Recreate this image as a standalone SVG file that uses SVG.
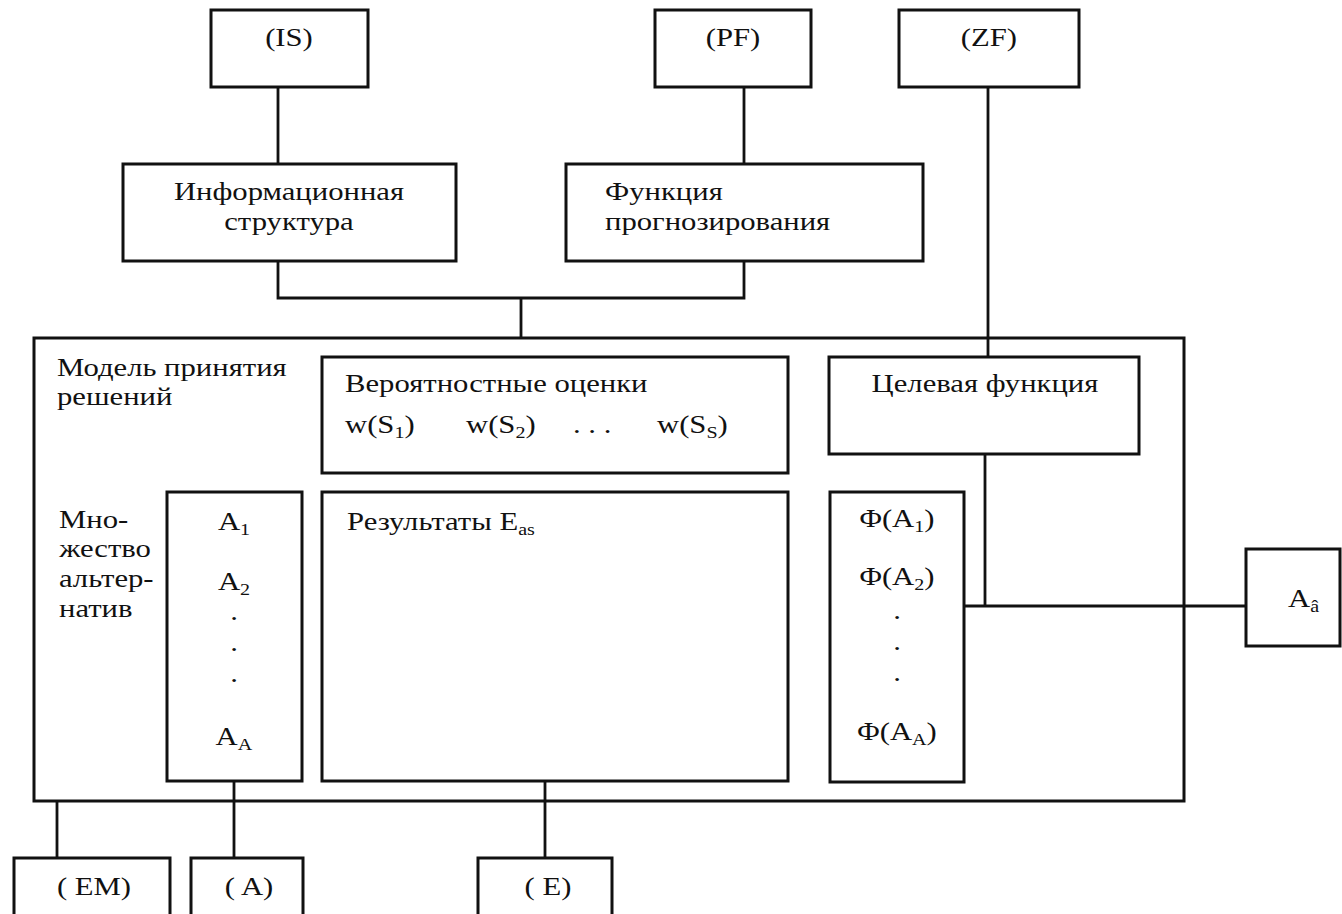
<svg xmlns="http://www.w3.org/2000/svg" width="1342" height="914" viewBox="0 0 1342 914">
<style>
.b{fill:#fff;stroke:#111;stroke-width:3}
.c{fill:none;stroke:#111;stroke-width:2.8}
text{font-family:"Liberation Serif","Times New Roman",serif;font-size:26px;fill:#111;transform-box:fill-box;transform-origin:left center;transform:scaleX(1.18)}
text.m{text-anchor:middle;transform-origin:center}
.s{font-size:17px}
</style>
<rect width="1342" height="914" fill="#fff"/>
<g id="main"><rect class="b" x="34" y="338" width="1150" height="463"/>
<text x="57" y="376">Модель принятия</text><text x="57" y="405">решений</text>
<text x="59" y="528">Мно-</text><text x="59" y="557">жество</text><text x="59" y="587">альтер-</text><text x="59" y="617">натив</text></g>
<g id="connectors">
<path class="c" d="M278,87V164M744,87V164M278,261V298H744V261M521,298V338M988,87V357M985,454V606M964,606H1246M57,801V858M234,781V858M545,781V858"/>
</g>
<g id="IS"><rect class="b" x="211" y="10" width="157" height="77"/><text class="m" x="289" y="46">(IS)</text></g>
<g id="PF"><rect class="b" x="655" y="10" width="156" height="77"/><text class="m" x="733" y="46">(PF)</text></g>
<g id="ZF"><rect class="b" x="899" y="10" width="180" height="77"/><text class="m" x="989" y="46">(ZF)</text></g>
<g id="info"><rect class="b" x="123" y="164" width="333" height="97"/><text class="m" x="289" y="200">Информационная</text><text class="m" x="289" y="230">структура</text></g>
<g id="forecast"><rect class="b" x="566" y="164" width="357" height="97"/><text x="605" y="200">Функция</text><text x="605" y="230">прогнозирования</text></g>
<g id="prob"><rect class="b" x="322" y="357" width="466" height="116"/><text x="345" y="392">Вероятностные оценки</text>
<text x="345" y="433">w(S<tspan class="s" dy="5">1</tspan><tspan dy="-5">)</tspan></text>
<text x="466" y="433">w(S<tspan class="s" dy="5">2</tspan><tspan dy="-5">)</tspan></text>
<text x="573" y="433">. . .</text>
<text x="657" y="433">w(S<tspan class="s" dy="5">S</tspan><tspan dy="-5">)</tspan></text></g>
<g id="goal"><rect class="b" x="829" y="357" width="310" height="97"/><text class="m" x="985" y="392">Целевая функция</text></g>
<g id="alts"><rect class="b" x="167" y="492" width="135" height="289"/>
<text class="m" x="234" y="530">A<tspan class="s" dy="5">1</tspan></text>
<text class="m" x="234" y="590">A<tspan class="s" dy="5">2</tspan></text>
<text class="m" x="234" y="620">.</text><text class="m" x="234" y="651">.</text><text class="m" x="234" y="682">.</text>
<text class="m" x="234" y="745">A<tspan class="s" dy="5">A</tspan></text></g>
<g id="results"><rect class="b" x="322" y="492" width="466" height="289"/><text x="347" y="530">Результаты E<tspan class="s" dy="5">as</tspan></text></g>
<g id="phi"><rect class="b" x="830" y="492" width="134" height="290"/>
<text class="m" x="897" y="527">Φ(A<tspan class="s" dy="5">1</tspan><tspan dy="-5">)</tspan></text>
<text class="m" x="897" y="585">Φ(A<tspan class="s" dy="5">2</tspan><tspan dy="-5">)</tspan></text>
<text class="m" x="897" y="619">.</text><text class="m" x="897" y="650">.</text><text class="m" x="897" y="681">.</text>
<text class="m" x="897" y="740">Φ(A<tspan class="s" dy="5">A</tspan><tspan dy="-5">)</tspan></text></g>
<g id="Abest"><rect class="b" x="1246" y="549" width="94" height="97"/><text x="1288" y="607">A<tspan class="s" dy="5">â</tspan></text></g>
<g id="EM"><rect class="b" x="14" y="858" width="156" height="70"/><text class="m" x="94" y="895">( EM)</text></g>
<g id="A"><rect class="b" x="191" y="858" width="112" height="70"/><text class="m" x="249" y="895">( A)</text></g>
<g id="E"><rect class="b" x="478" y="858" width="134" height="70"/><text class="m" x="548" y="895">( E)</text></g>
</svg>
